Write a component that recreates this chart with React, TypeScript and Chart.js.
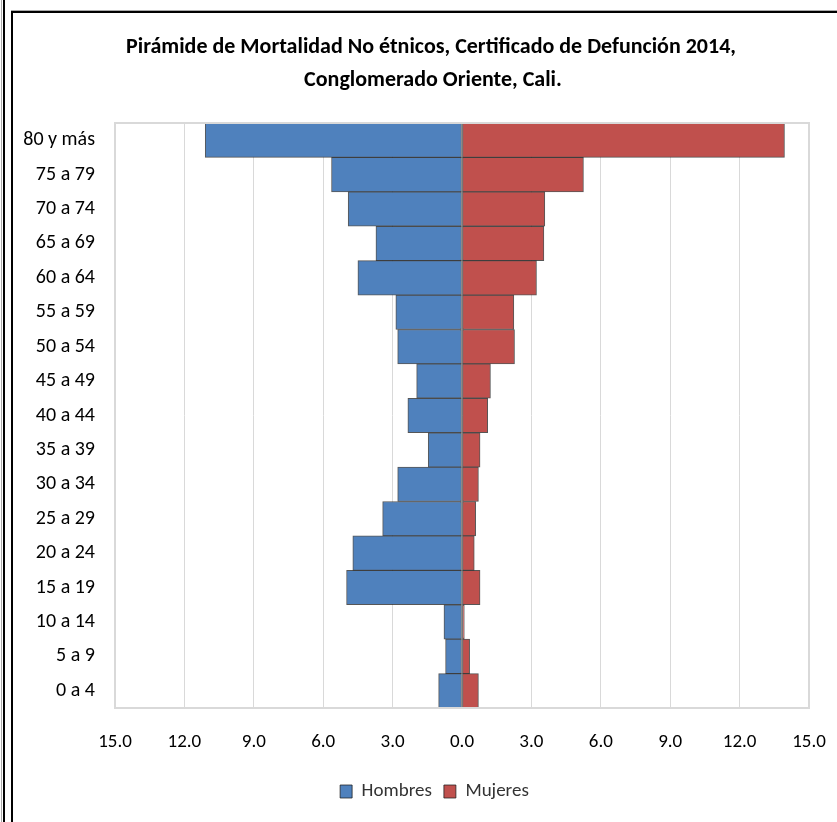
import React, { useEffect, useRef } from "react";
import { Chart, registerables } from "chart.js";

Chart.register(...registerables);

const categories = [
  "80 y más", "75 a 79", "70 a 74", "65 a 69", "60 a 64", "55 a 59",
  "50 a 54", "45 a 49", "40 a 44", "35 a 39", "30 a 34", "25 a 29",
  "20 a 24", "15 a 19", "10 a 14", "5 a 9", "0 a 4",
];
const hombres = [11.1, 5.64, 4.92, 3.72, 4.5, 2.86, 2.78, 1.96, 2.34, 1.46, 2.78, 3.43, 4.72, 4.99, 0.78, 0.71, 1.01];
const mujeres = [13.94, 5.25, 3.58, 3.54, 3.22, 2.24, 2.27, 1.23, 1.11, 0.78, 0.71, 0.59, 0.53, 0.78, 0.1, 0.33, 0.71];
const xTicks = [-15, -12, -9, -6, -3, 0, 3, 6, 9, 12, 15];
const titleLines = [
  "Pirámide de Mortalidad No étnicos, Certificado de Defunción 2014,",
  "Conglomerado Oriente, Cali.",
];

const FONT = "Carlito, 'Liberation Sans Narrow', 'Open Sans', sans-serif";

const plotBorder = {
  id: "plotBorder",
  afterLayout(chart: any) {
    if (chart.legend) {
      chart.legend.left += 24;
      chart.legend.right += 24;
    }
  },
  afterDraw(chart: any) {
    const { ctx, chartArea } = chart;
    ctx.save();
    ctx.strokeStyle = "#D9D9D9";
    ctx.lineWidth = 2;
    ctx.strokeRect(chartArea.left, chartArea.top, chartArea.right - chartArea.left, chartArea.bottom - chartArea.top);
    ctx.fillStyle = "#000";
    ctx.font = `bold 22px ${FONT}`;
    ctx.textAlign = "center";
    ctx.textBaseline = "middle";
    ctx.fillText(titleLines[0], 431, 47);
    ctx.fillText(titleLines[1], 433, 80);
    ctx.restore();
  },
};

export default function App() {
  const ref = useRef<HTMLCanvasElement>(null);
  useEffect(() => {
    if (!ref.current) return;
    const chart = new Chart(ref.current, {
      type: "bar",
      data: {
        labels: categories,
        datasets: [
          {
            label: "Hombres",
            data: hombres.map((v) => -v),
            backgroundColor: "#4F81BD",
            borderColor: "rgba(30,30,30,0.75)",
            borderWidth: 1,
            borderSkipped: false,
          },
          {
            label: "Mujeres",
            data: mujeres,
            backgroundColor: "#C0504D",
            borderColor: "rgba(30,30,30,0.75)",
            borderWidth: 1,
            borderSkipped: false,
          },
        ],
      },
      plugins: [plotBorder],
      options: {
        indexAxis: "y",
        animation: false,
        responsive: false,
        maintainAspectRatio: false,
        datasets: { bar: { barPercentage: 1, categoryPercentage: 1 } },
        layout: { padding: { top: 123, left: 12, right: 28, bottom: 11 } },
        plugins: {
          title: { display: false },
          legend: {
            display: true,
            position: "bottom",
            labels: {
              color: "#333",
              font: { family: FONT, size: 19 },
              boxWidth: 12,
              boxHeight: 13,
              padding: 12,
            },
          },
          tooltip: { enabled: false },
        },
        scales: {
          x: {
            stacked: true,
            min: -15,
            max: 15,
            afterBuildTicks: (axis: any) => {
              axis.ticks = xTicks.map((v) => ({ value: v }));
            },
            afterFit: (axis: any) => {
              axis.height = 62;
              axis.paddingLeft = 0;
              axis.paddingRight = 0;
            },
            ticks: {
              color: "#000",
              font: { family: FONT, size: 19 },
              padding: 23,
              maxRotation: 0,
              callback: (v: any) => Math.abs(Number(v)).toFixed(1),
            },
            grid: { color: "#D9D9D9", lineWidth: 1, drawTicks: false },
            border: { display: false },
          },
          y: {
            stacked: true,
            afterFit: (axis: any) => {
              axis.width = 103;
              axis.paddingTop = 0;
              axis.paddingBottom = 0;
            },
            ticks: {
              color: "#000",
              font: { family: FONT, size: 20 },
              padding: 12,
            },
            grid: { display: false },
            border: { display: false },
          },
        },
      },
    });
    return () => chart.destroy();
  }, []);

  const line = (style: React.CSSProperties) => (
    <div style={{ position: "absolute", background: "#000", ...style }} />
  );

  return (
    <div style={{ position: "absolute", left: 0, top: 0, width: 837, height: 822, background: "#fff", overflow: "hidden" }}>
      <canvas ref={ref} width={837} height={822} style={{ position: "absolute", left: 0, top: 0, width: 837, height: 822 }} />
      {line({ left: 1, top: 0, width: 1, height: 822, background: "#aaa" })}
      {line({ left: 3, top: 0, width: 2, height: 822 })}
      {line({ left: 11, top: 11, width: 2, height: 811 })}
      {line({ left: 11, top: 10, width: 826, height: 1, background: "#aaa" })}
      {line({ left: 11, top: 11, width: 826, height: 2 })}
    </div>
  );
}
